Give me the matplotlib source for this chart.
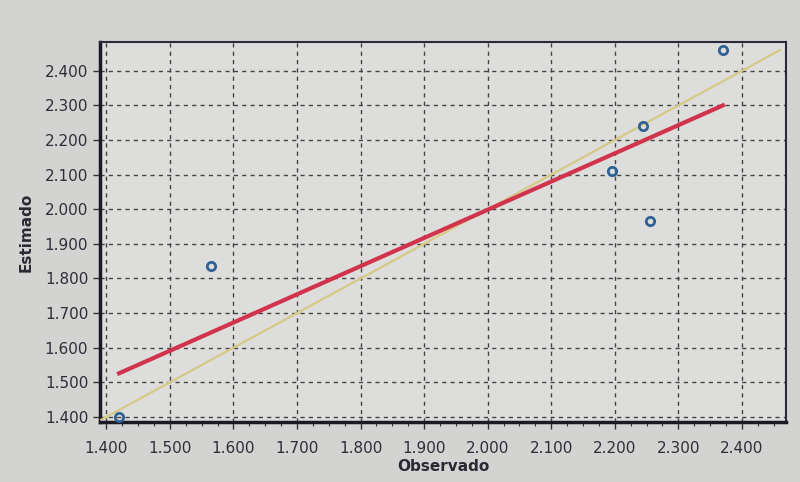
import numpy as np
import matplotlib
matplotlib.use("Agg")
import matplotlib.pyplot as plt
from matplotlib.ticker import MultipleLocator, FormatStrFormatter

# observed vs estimated points
observado = [1.420, 1.565, 2.195, 2.245, 2.255, 2.370]
estimado = [1.400, 1.835, 2.110, 2.240, 1.965, 2.460]

# fitted regression line (red), read at its two ends
reg_x = [1.420, 2.370]
reg_y = [1.526, 2.300]

# 1:1 reference line (yellow)
ref_x = [1.392, 2.460]
ref_y = [1.392, 2.460]

fig = plt.figure(figsize=(8, 4.82), dpi=100, facecolor="#d3d3d1")
ax = fig.add_axes([0.125, 0.125, 0.858, 0.787], facecolor="#dddddb")

ax.plot(ref_x, ref_y, color="#d6c985", lw=1.6, zorder=3)
ax.plot(reg_x, reg_y, color="#d2334c", lw=3.0, zorder=4)
ax.plot(observado, estimado, "o", ms=6, mfc="none", mec="#2f6294", mew=2.0,
        zorder=5)

ax.set_xlim(1.39, 2.47)
ax.set_ylim(1.386, 2.482)

ax.xaxis.set_major_locator(MultipleLocator(0.1))
ax.yaxis.set_major_locator(MultipleLocator(0.1))
ax.xaxis.set_minor_locator(MultipleLocator(0.025))
ax.xaxis.set_major_formatter(FormatStrFormatter("%.3f"))
ax.yaxis.set_major_formatter(FormatStrFormatter("%.3f"))

ax.grid(True, which="major", ls=(0, (3, 3)), color="#444444", lw=1.0)
ax.tick_params(which="major", direction="out", length=5, width=1,
               color="#333333", labelsize=11, labelcolor="#2e2e3a")
ax.tick_params(which="minor", direction="out", length=3, width=0.8,
               color="#333333")
ax.tick_params(axis="x", pad=9)

for side in ["left", "bottom"]:
    ax.spines[side].set_linewidth(2.5)
    ax.spines[side].set_color("#1a1a24")
for side in ["top", "right"]:
    ax.spines[side].set_linewidth(1.5)
    ax.spines[side].set_color("#2a2a3a")

ax.set_xlabel("Observado", fontsize=11, fontweight="bold", color="#2a2a34",
              labelpad=2)
ax.set_ylabel("Estimado", fontsize=11, fontweight="bold", color="#2a2a34",
              labelpad=8)

fig.savefig("out.png", dpi=100, facecolor=fig.get_facecolor())
